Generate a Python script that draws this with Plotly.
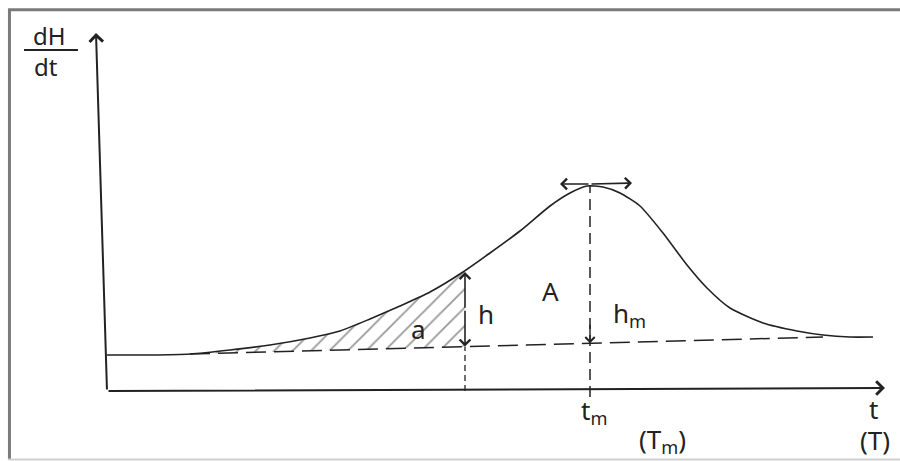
import plotly.graph_objects as go

# ---- data (t = time from origin, s = dH/dt signal), diagram units ----
curve_t = [0, 43, 83, 123, 163, 203, 233, 263, 293, 323, 356, 383, 413, 443,
           463, 480, 496, 513, 533, 556, 580, 600, 623, 656, 690, 716, 743, 766]
curve_s = [36, 36, 37, 41, 46, 53, 60, 72, 85, 99, 119, 138, 160, 185,
           198, 205, 204, 198, 185, 158, 126, 103, 83, 68, 60, 56, 54, 54]

base_t = [83, 716]          # dashed baseline end points
base_s = [37, 54]
h_t = 358                   # position of partial height h
h_top = 119
peak_t = 483                # t_m
peak_s = 205
yaxis_top = (-11, 358)
xaxis_end = (778, 3)

def base_at(t):
    return base_s[0] + (base_s[1] - base_s[0]) * (t - base_t[0]) / (base_t[1] - base_t[0])

ink = "#222222"
fig = go.Figure()

# hatched partial area a
hx = [t for t in curve_t if base_t[0] <= t <= h_t]
hy = [s for t, s in zip(curve_t, curve_s) if base_t[0] <= t <= h_t]
poly_x = hx + [h_t, h_t, base_t[0]]
poly_y = hy + [h_top, base_at(h_t), base_s[0]]
fig.add_trace(go.Scatter(x=poly_x, y=poly_y, mode="lines", fill="toself",
                         line=dict(width=0, color="rgba(0,0,0,0)"),
                         fillcolor="rgba(255,255,255,0)",
                         fillpattern=dict(shape="/", fgcolor="#333", bgcolor="rgba(255,255,255,0)",
                                          size=13, solidity=0.14),
                         hoverinfo="skip", showlegend=False))

# main curve
fig.add_trace(go.Scatter(x=curve_t, y=curve_s, mode="lines",
                         line=dict(color=ink, width=1.6, shape="spline", smoothing=0.6),
                         hoverinfo="skip", showlegend=False))

# dashed baseline
fig.add_trace(go.Scatter(x=base_t, y=base_s, mode="lines",
                         line=dict(color=ink, width=1.5, dash="20px,8px"),
                         hoverinfo="skip", showlegend=False))

# dashed line below h
fig.add_trace(go.Scatter(x=[h_t, h_t], y=[0, base_at(h_t)], mode="lines",
                         line=dict(color=ink, width=1.3, dash="6px,4px"),
                         hoverinfo="skip", showlegend=False))

# dashed vertical line at peak
fig.add_trace(go.Scatter(x=[peak_t, peak_t], y=[-6, peak_s], mode="lines",
                         line=dict(color=ink, width=1.5, dash="11px,6px"),
                         hoverinfo="skip", showlegend=False))

def arrow(x0, y0, x1, y1, w=1.6):
    fig.add_annotation(x=x1, y=y1, ax=x0, ay=y0, xref="x", yref="y", axref="x", ayref="y",
                       showarrow=True, arrowhead=4, arrowsize=1.3, arrowwidth=w,
                       arrowcolor=ink, text="", standoff=0, startstandoff=0)

# axes
arrow(0, 0, *yaxis_top, w=2)
arrow(0, 0, *xaxis_end, w=2)
# h double arrow
mid = (h_top + base_at(h_t)) / 2
arrow(h_t, mid, h_t, h_top)
arrow(h_t, mid, h_t, base_at(h_t))
# arrow down at baseline under peak
arrow(peak_t, base_at(peak_t) + 20, peak_t, base_at(peak_t), w=1.4)
# tangent double arrow at peak
arrow(peak_t, peak_s + 2, peak_t - 30, peak_s + 2)
arrow(peak_t, peak_s + 2, peak_t + 42, peak_s + 3)

font = "Noto Sans"
def label(x, y, text, size=26):
    fig.add_annotation(x=x, y=y, xref="x", yref="y", text=text, showarrow=False,
                       font=dict(family=font, size=size, color=ink))

label(311, 62, "a")
label(379, 77, "h")
label(443, 100, "A")
label(522, 77, "h<sub>m</sub>")
label(487, -20, "t<sub>m</sub>")
label(555, -49, "(T<sub>m</sub>)")
label(766, -18, "t")
label(768, -49, "(T)")
label(-58, 356, "dH", size=24)
label(-61, 325, "dt", size=24)
fig.add_shape(type="line", xref="x", yref="y", x0=-83, x1=-29, y0=341, y1=341,
              line=dict(color=ink, width=2))

# picture frame
frame = "#7a7a7a"
fig.add_shape(type="line", xref="paper", yref="paper", x0=0.0105, x1=0.0105, y0=0.004, y1=0.98,
              line=dict(color=frame, width=3))
fig.add_shape(type="line", xref="paper", yref="paper", x0=0.009, x1=1, y0=0.979, y1=0.979,
              line=dict(color=frame, width=3))
fig.add_shape(type="line", xref="paper", yref="paper", x0=0.009, x1=1, y0=0.003, y1=0.003,
              line=dict(color="#cfcfcf", width=2))

fig.update_layout(width=900, height=461, margin=dict(l=0, r=0, t=0, b=0),
                  paper_bgcolor="white", plot_bgcolor="white", showlegend=False,
                  xaxis=dict(range=[-107, 793], visible=False, fixedrange=True),
                  yaxis=dict(range=[-70, 391], visible=False, fixedrange=True))

fig.write_html("out.html", config={"displayModeBar": False},
               post_script="document.body.style.margin='0';document.body.style.overflow='hidden';")
